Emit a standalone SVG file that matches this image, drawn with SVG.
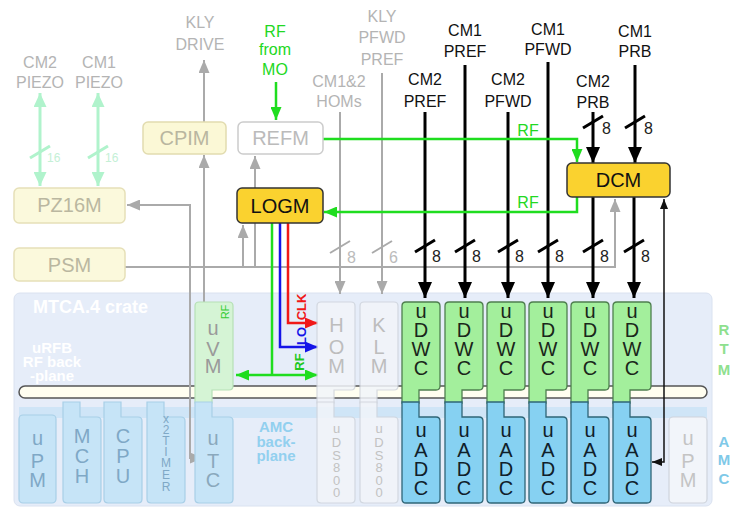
<svg xmlns="http://www.w3.org/2000/svg" width="731" height="507" viewBox="0 0 731 507">
<defs>
<style>
text{font-family:"Liberation Sans",Arial,sans-serif;}
.lbl{font-size:16px;fill:#b4b4b4;text-anchor:middle}
.lblk{font-size:16px;fill:#111;text-anchor:middle}
.lblg{font-size:16px;fill:#22d822;text-anchor:middle}
.bt{font-size:20px;text-anchor:middle}
.g{stroke:#aaa;stroke-width:2;fill:none}
.k{stroke:#000;stroke-width:3;fill:none}
.gr{stroke:#1fdd1f;stroke-width:2.5;fill:none}
.pz{stroke:#b0f3cc;stroke-width:3;fill:none}
.n8{font-size:16px;fill:#222}
.n8g{font-size:16px;fill:#bbb}
.n16{font-size:12px;fill:#c4f0d6}
.mod{font-size:20px;text-anchor:middle}
.ds{font-size:13px;text-anchor:middle;fill:#c2c2c2}
.dwc{fill:#a3ef9c;stroke:#4f7f4f;stroke-width:1.3}
.adc{fill:#86d1f2;stroke:#2f6577;stroke-width:1.3}
.lowl{fill:#c6e4f7;stroke:#a8cfe7;stroke-width:1.2}
.faint{fill:#f2f5fa;stroke:#cfd4dc;stroke-width:1.2}
.vm{fill:#d5f4d5;stroke:#b6e0b6;stroke-width:1.2}
</style>
<path id="up" d="M4,302 H34 Q38,302 38,306 V386 Q38,390 34,390 H17 V403 H0 V306 Q0,302 4,302 Z"/>
<path id="lo" d="M0,402 H17 V417 H34 Q38,417 38,421 V499 Q38,503 34,503 H4 Q0,503 0,499 Z"/>
<marker id="ak" markerUnits="userSpaceOnUse" markerWidth="16" markerHeight="14" refX="16" refY="7" orient="auto"><path d="M0,0 L16,7 L0,14 z" fill="#000"/></marker>
<marker id="ag" markerUnits="userSpaceOnUse" markerWidth="13" markerHeight="11" refX="13" refY="5.5" orient="auto-start-reverse"><path d="M0,0 L13,5.5 L0,11 z" fill="#aaa"/></marker>
<marker id="agr" markerUnits="userSpaceOnUse" markerWidth="13" markerHeight="11" refX="13" refY="5.5" orient="auto-start-reverse"><path d="M0,0 L13,5.5 L0,11 z" fill="#1fdd1f"/></marker>
<marker id="ar" markerUnits="userSpaceOnUse" markerWidth="13" markerHeight="11" refX="13" refY="5.5" orient="auto"><path d="M0,0 L13,5.5 L0,11 z" fill="#f01818"/></marker>
<marker id="ab" markerUnits="userSpaceOnUse" markerWidth="13" markerHeight="11" refX="13" refY="5.5" orient="auto"><path d="M0,0 L13,5.5 L0,11 z" fill="#1414e8"/></marker>
<marker id="apz" markerUnits="userSpaceOnUse" markerWidth="14" markerHeight="13" refX="14" refY="6.5" orient="auto-start-reverse"><path d="M0,0 L14,6.5 L0,13 z" fill="#b0f3cc"/></marker>
<marker id="at" markerUnits="userSpaceOnUse" markerWidth="10" markerHeight="8" refX="10" refY="4" orient="auto-start-reverse"><path d="M0,0 L10,4 L0,8 z" fill="#111"/></marker>
</defs>

<g id="crate">
<rect x="14" y="293" width="698" height="213" rx="6" fill="#e6edf9" stroke="#dae2f0"/>
<rect x="19" y="407" width="688" height="11" fill="#cfe5f7"/>
<rect x="19" y="386" width="688" height="12" rx="6" fill="#fffef0" stroke="#555" stroke-width="1.5"/>
<text x="33" y="313" style="font-size:18px;font-weight:bold;fill:#fff">MTCA.4 crate</text>
<text style="font-size:15px;font-weight:bold;fill:#fff;text-anchor:middle"><tspan x="52" y="353">uRFB</tspan><tspan x="52" y="367">RF back</tspan><tspan x="52" y="381">-plane</tspan></text>
<text style="font-size:15px;font-weight:bold;fill:#92d0ef;text-anchor:middle"><tspan x="276" y="432">AMC</tspan><tspan x="276" y="447">back-</tspan><tspan x="276" y="461">plane</tspan></text>
</g>

<g id="connectors">
<line class="pz" x1="40" y1="93" x2="40" y2="186" marker-start="url(#apz)" marker-end="url(#apz)"/>
<line class="pz" x1="98" y1="93" x2="98" y2="186" marker-start="url(#apz)" marker-end="url(#apz)"/>
<path class="pz" d="M30,158 L50,146 M88,158 L108,146"/>
<text class="n16" x="47" y="162">16</text>
<text class="n16" x="105" y="162">16</text>
<line class="g" x1="204" y1="122" x2="204" y2="60" marker-end="url(#ag)"/>
<line class="g" x1="204" y1="302" x2="204" y2="155" marker-end="url(#ag)"/>
<path class="g" d="M127,205 H190 V458 H203" marker-start="url(#ag)" marker-end="url(#ag)"/>
<path class="g" d="M125,267 H615 V199" marker-end="url(#ag)"/>
<line class="g" x1="243" y1="267" x2="243" y2="225" marker-end="url(#ag)"/>
<line class="g" x1="255" y1="267" x2="255" y2="156" marker-end="url(#ag)"/>
<line class="g" x1="340" y1="112" x2="340" y2="294" marker-end="url(#ag)"/>
<line class="g" x1="382" y1="73" x2="382" y2="294" marker-end="url(#ag)"/>
<path class="g" d="M330,253 L350,241 M372,253 L392,241" stroke-width="2.5"/>
<text class="n8g" x="347" y="263">8</text>
<text class="n8g" x="389" y="263">6</text>
<line class="k" x1="425" y1="112" x2="425" y2="298" marker-end="url(#ak)"/>
<line class="k" x1="465" y1="65" x2="465" y2="298" marker-end="url(#ak)"/>
<line class="k" x1="508" y1="112" x2="508" y2="298" marker-end="url(#ak)"/>
<line class="k" x1="548" y1="62" x2="548" y2="298" marker-end="url(#ak)"/>
<line class="k" x1="593" y1="112" x2="593" y2="163" marker-end="url(#ak)"/>
<line class="k" x1="635" y1="65" x2="635" y2="163" marker-end="url(#ak)"/>
<line class="k" x1="593" y1="197" x2="593" y2="298" marker-end="url(#ak)"/>
<line class="k" x1="634" y1="197" x2="634" y2="298" marker-end="url(#ak)"/>
<path class="k" d="M415,252 L435,240 M455,252 L475,240 M498,252 L518,240 M538,252 L558,240 M583,252 L603,240 M624,252 L644,240 M583,128 L603,116 M625,128 L645,116"/>
<text class="n8" x="432" y="262">8</text>
<text class="n8" x="472" y="262">8</text>
<text class="n8" x="515" y="262">8</text>
<text class="n8" x="555" y="262">8</text>
<text class="n8" x="600" y="262">8</text>
<text class="n8" x="641" y="262">8</text>
<text class="n8" x="602" y="134">8</text>
<text class="n8" x="644" y="134">8</text>
<path d="M664,199 V462 H652" stroke="#111" stroke-width="1.5" fill="none" marker-start="url(#at)" marker-end="url(#at)"/>
<line class="gr" x1="276" y1="82" x2="276" y2="120" marker-end="url(#agr)"/>
<path class="gr" d="M323,139 H577 V162" marker-end="url(#agr)"/>
<path class="gr" d="M577,197 V212 H324" marker-end="url(#agr)"/>
<text class="lblg" x="528" y="136">RF</text>
<text class="lblg" x="528" y="208">RF</text>
<line class="gr" x1="272" y1="223" x2="272" y2="375"/>
<line class="gr" x1="236" y1="375" x2="318" y2="375" marker-start="url(#agr)" marker-end="url(#agr)"/>
<path d="M280,223 V347 H318" stroke="#1414e8" stroke-width="2.5" fill="none" marker-end="url(#ab)"/>
<path d="M288,223 V323 H318" stroke="#f01818" stroke-width="2.5" fill="none" marker-end="url(#ar)"/>
<text transform="rotate(-90 306 307)" x="306" y="307" style="font-size:13px;font-weight:bold;fill:#f01818;text-anchor:middle">CLK</text>
<text transform="rotate(-90 306 336)" x="306" y="336" style="font-size:13px;font-weight:bold;fill:#1414e8;text-anchor:middle">LO</text>
<text transform="rotate(-90 304 362)" x="304" y="362" style="font-size:13px;font-weight:bold;fill:#1fc81f;text-anchor:middle">RF</text>
</g>

<g id="labels">
<text class="lbl"><tspan x="200" y="28">KLY</tspan><tspan x="200" y="50">DRIVE</tspan></text>
<text class="lbl"><tspan x="40" y="68">CM2</tspan><tspan x="40" y="88">PIEZO</tspan></text>
<text class="lbl"><tspan x="99" y="68">CM1</tspan><tspan x="99" y="88">PIEZO</tspan></text>
<text class="lblg"><tspan x="275" y="37">RF</tspan><tspan x="275" y="55">from</tspan><tspan x="275" y="75">MO</tspan></text>
<text class="lbl"><tspan x="382" y="22">KLY</tspan><tspan x="382" y="43">PFWD</tspan><tspan x="382" y="65">PREF</tspan></text>
<text class="lbl"><tspan x="339" y="87">CM1&amp;2</tspan><tspan x="339" y="107">HOMs</tspan></text>
<text class="lblk"><tspan x="425" y="85">CM2</tspan><tspan x="425" y="107">PREF</tspan></text>
<text class="lblk"><tspan x="465" y="36">CM1</tspan><tspan x="465" y="57">PREF</tspan></text>
<text class="lblk"><tspan x="508" y="85">CM2</tspan><tspan x="508" y="107">PFWD</tspan></text>
<text class="lblk"><tspan x="548" y="35">CM1</tspan><tspan x="548" y="55">PFWD</tspan></text>
<text class="lblk"><tspan x="593" y="87">CM2</tspan><tspan x="593" y="108">PRB</tspan></text>
<text class="lblk"><tspan x="635" y="37">CM1</tspan><tspan x="635" y="57">PRB</tspan></text>
<text style="font-size:15px;font-weight:bold;fill:#8ee08e;text-anchor:middle"><tspan x="724" y="335">R</tspan><tspan x="724" y="354">T</tspan><tspan x="724" y="375">M</tspan></text>
<text style="font-size:15px;font-weight:bold;fill:#7fc9e8;text-anchor:middle"><tspan x="724" y="447">A</tspan><tspan x="724" y="465">M</tspan><tspan x="724" y="484">C</tspan></text>
</g>

<g id="CPIM"><rect x="143" y="122" width="83" height="32" rx="5" fill="#fbf8d6" stroke="#e2dcb0" stroke-width="1.5"/><text class="bt" x="184.5" y="145" fill="#b9b6a0">CPIM</text></g>
<g id="REFM"><rect x="238" y="122" width="85" height="32" rx="5" fill="#fff" stroke="#ccc" stroke-width="1.5"/><text class="bt" x="280.5" y="145" fill="#bbb">REFM</text></g>
<g id="LOGM"><rect x="237" y="188" width="86" height="35" rx="5" fill="#fad22f" stroke="#333" stroke-width="1.5"/><text class="bt" x="280" y="213" fill="#111">LOGM</text></g>
<g id="DCM"><rect x="567" y="163" width="103" height="34" rx="5" fill="#fad22f" stroke="#333" stroke-width="1.5"/><text class="bt" x="618.5" y="187" fill="#111">DCM</text></g>
<g id="PZ16M"><rect x="14" y="188" width="111" height="35" rx="5" fill="#fbf9dc" stroke="#e6e0b8" stroke-width="1.5"/><text class="bt" x="69.5" y="212" fill="#bab7a0">PZ16M</text></g>
<g id="PSM"><rect x="14" y="248" width="111" height="33" rx="5" fill="#fbf9dc" stroke="#e6e0b8" stroke-width="1.5"/><text class="bt" x="69.5" y="272" fill="#bab7a0">PSM</text></g>

<g id="uPM-left"><rect class="lowl" x="19" y="415" width="37" height="88" rx="4"/><text class="mod" fill="#7fa8c6"><tspan x="37.5" y="445">u</tspan><tspan x="37.5" y="468">P</tspan><tspan x="37.5" y="487">M</tspan></text></g>
<g id="MCH"><use href="#lo" x="63" class="lowl"/><text class="mod" fill="#7fa8c6"><tspan x="82" y="443">M</tspan><tspan x="82" y="463">C</tspan><tspan x="82" y="483">H</tspan></text></g>
<g id="CPU"><use href="#lo" x="104" class="lowl"/><text class="mod" fill="#7fa8c6"><tspan x="123" y="443">C</tspan><tspan x="123" y="463">P</tspan><tspan x="123" y="483">U</tspan></text></g>
<g id="x2TIMER"><use href="#lo" x="147" class="lowl"/><text style="font-size:12px;text-anchor:middle" fill="#7fa8c6"><tspan x="166" y="423">x</tspan><tspan x="166" y="434">2</tspan><tspan x="166" y="445">T</tspan><tspan x="166" y="456">I</tspan><tspan x="166" y="467">M</tspan><tspan x="166" y="479">E</tspan><tspan x="166" y="491">R</tspan></text></g>
<g id="uVM"><use href="#up" x="195" class="vm"/><text class="mod" fill="#9a9a9a"><tspan x="213" y="335">u</tspan><tspan x="213" y="356">V</tspan><tspan x="213" y="373">M</tspan></text><text transform="rotate(-90 229 312)" x="229" y="312" style="font-size:11px;fill:#33cc33;text-anchor:middle">RF</text></g>
<g id="uTC"><use href="#lo" x="195" class="lowl"/><text class="mod" fill="#8aa8bc"><tspan x="213" y="445">u</tspan><tspan x="213" y="468">T</tspan><tspan x="213" y="487">C</tspan></text></g>

<g id="HOM"><use href="#up" x="317" class="faint" opacity="0.85"/><text class="mod" fill="#bdbdbd"><tspan x="336.5" y="332">H</tspan><tspan x="336.5" y="354">O</tspan><tspan x="336.5" y="373">M</tspan></text></g>
<g id="KLM"><use href="#up" x="360" class="faint" opacity="0.85"/><text class="mod" fill="#bdbdbd"><tspan x="379" y="332">K</tspan><tspan x="379" y="354">L</tspan><tspan x="379" y="373">M</tspan></text></g>
<g id="uDS800-1"><use href="#lo" x="317" class="faint" opacity="0.85"/><text class="ds"><tspan x="336.5" y="433">u</tspan><tspan x="336.5" y="447">D</tspan><tspan x="336.5" y="460">S</tspan><tspan x="336.5" y="472">8</tspan><tspan x="336.5" y="485">0</tspan><tspan x="336.5" y="497">0</tspan></text></g>
<g id="uDS800-2"><use href="#lo" x="360" class="faint" opacity="0.85"/><text class="ds"><tspan x="379" y="433">u</tspan><tspan x="379" y="447">D</tspan><tspan x="379" y="460">S</tspan><tspan x="379" y="472">8</tspan><tspan x="379" y="485">0</tspan><tspan x="379" y="497">0</tspan></text></g>

<g id="uDWC-1"><use href="#up" x="402" class="dwc"/><text class="mod" fill="#1a261a"><tspan x="421" y="318">u</tspan><tspan x="421" y="337">D</tspan><tspan x="421" y="356">W</tspan><tspan x="421" y="375">C</tspan></text></g>
<g id="uDWC-2"><use href="#up" x="445" class="dwc"/><text class="mod" fill="#1a261a"><tspan x="464" y="318">u</tspan><tspan x="464" y="337">D</tspan><tspan x="464" y="356">W</tspan><tspan x="464" y="375">C</tspan></text></g>
<g id="uDWC-3"><use href="#up" x="487" class="dwc"/><text class="mod" fill="#1a261a"><tspan x="506" y="318">u</tspan><tspan x="506" y="337">D</tspan><tspan x="506" y="356">W</tspan><tspan x="506" y="375">C</tspan></text></g>
<g id="uDWC-4"><use href="#up" x="529" class="dwc"/><text class="mod" fill="#1a261a"><tspan x="548" y="318">u</tspan><tspan x="548" y="337">D</tspan><tspan x="548" y="356">W</tspan><tspan x="548" y="375">C</tspan></text></g>
<g id="uDWC-5"><use href="#up" x="571" class="dwc"/><text class="mod" fill="#1a261a"><tspan x="590" y="318">u</tspan><tspan x="590" y="337">D</tspan><tspan x="590" y="356">W</tspan><tspan x="590" y="375">C</tspan></text></g>
<g id="uDWC-6"><use href="#up" x="613" class="dwc"/><text class="mod" fill="#1a261a"><tspan x="632" y="318">u</tspan><tspan x="632" y="337">D</tspan><tspan x="632" y="356">W</tspan><tspan x="632" y="375">C</tspan></text></g>

<g id="uADC-1"><use href="#lo" x="402" class="adc"/><text class="mod" fill="#10202a"><tspan x="421" y="437">u</tspan><tspan x="421" y="457">A</tspan><tspan x="421" y="476">D</tspan><tspan x="421" y="495">C</tspan></text></g>
<g id="uADC-2"><use href="#lo" x="445" class="adc"/><text class="mod" fill="#10202a"><tspan x="464" y="437">u</tspan><tspan x="464" y="457">A</tspan><tspan x="464" y="476">D</tspan><tspan x="464" y="495">C</tspan></text></g>
<g id="uADC-3"><use href="#lo" x="487" class="adc"/><text class="mod" fill="#10202a"><tspan x="506" y="437">u</tspan><tspan x="506" y="457">A</tspan><tspan x="506" y="476">D</tspan><tspan x="506" y="495">C</tspan></text></g>
<g id="uADC-4"><use href="#lo" x="529" class="adc"/><text class="mod" fill="#10202a"><tspan x="548" y="437">u</tspan><tspan x="548" y="457">A</tspan><tspan x="548" y="476">D</tspan><tspan x="548" y="495">C</tspan></text></g>
<g id="uADC-5"><use href="#lo" x="571" class="adc"/><text class="mod" fill="#10202a"><tspan x="590" y="437">u</tspan><tspan x="590" y="457">A</tspan><tspan x="590" y="476">D</tspan><tspan x="590" y="495">C</tspan></text></g>
<g id="uADC-6"><use href="#lo" x="613" class="adc"/><text class="mod" fill="#10202a"><tspan x="632" y="437">u</tspan><tspan x="632" y="457">A</tspan><tspan x="632" y="476">D</tspan><tspan x="632" y="495">C</tspan></text></g>

<g id="uPM-right"><rect class="faint" x="669" y="417" width="38" height="86" rx="4"/><text class="mod" fill="#c4c4c4"><tspan x="688" y="445">u</tspan><tspan x="688" y="468">P</tspan><tspan x="688" y="487">M</tspan></text></g>
</svg>
